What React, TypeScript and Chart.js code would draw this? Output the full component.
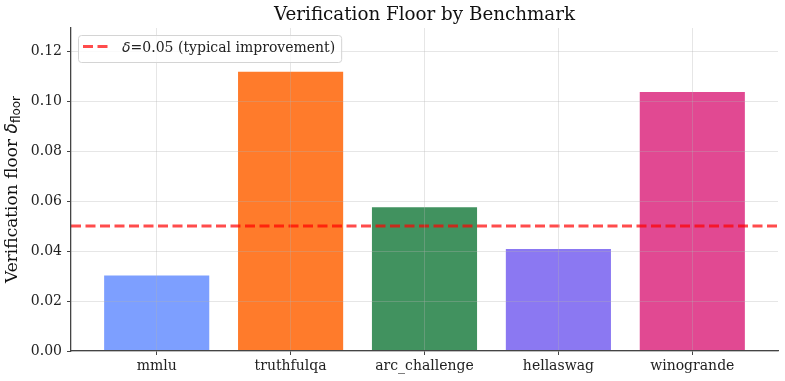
import { useEffect, useRef } from "react";
import { Chart, registerables } from "chart.js";

Chart.register(...registerables);

// Benchmarks and their measured verification floors
const benchmarks = ["mmlu", "truthfulqa", "arc_challenge", "hellaswag", "winogrande"];
const floorValues = [0.0306, 0.1121, 0.0579, 0.0412, 0.104];
const barColors = ["#7d9fff", "#ff7b2b", "#41925f", "#8b78f2", "#e14992"];

// Reference improvement threshold
const threshold = 0.05;
const yTickValues = [0, 0.02, 0.04, 0.06, 0.08, 0.1, 0.12];

const titleText = "Verification Floor by Benchmark";
const yLabelMain = "Verification floor ";
const yLabelSymbol = "δ";
const yLabelSub = "floor";
const legendRest = "=0.05 (typical improvement)";

const SERIF = "'DejaVu Serif', serif";
const SANS = "'DejaVu Sans', sans-serif";
const LINE_COLOR = "rgba(255, 0, 0, 0.7)";
const GRID_COLOR = "rgba(176, 176, 176, 0.32)";
const SPINE_COLOR = "#444444";

const xMin = -0.64;
const xMax = 4.64;

const decorations = {
  id: "decorations",
  afterDraw(chart: Chart) {
    const ctx = chart.ctx;
    const area = chart.chartArea;

    // title
    ctx.save();
    ctx.fillStyle = "#111";
    ctx.font = `18.3px ${SERIF}`;
    ctx.textAlign = "center";
    ctx.textBaseline = "alphabetic";
    ctx.fillText(titleText, (area.left + area.right) / 2, 20);
    ctx.restore();

    // y-axis label with subscript
    ctx.save();
    const mainFont = `17px ${SERIF}`;
    const symFont = `italic 17px ${SANS}`;
    const subFont = `12px ${SANS}`;
    ctx.font = mainFont;
    const w1 = ctx.measureText(yLabelMain).width;
    ctx.font = symFont;
    const w2 = ctx.measureText(yLabelSymbol).width;
    ctx.font = subFont;
    const w3 = ctx.measureText(yLabelSub).width;
    const total = w1 + w2 + w3;
    ctx.translate(17, (area.top + area.bottom) / 2);
    ctx.rotate(-Math.PI / 2);
    ctx.fillStyle = "#111";
    ctx.textBaseline = "alphabetic";
    ctx.textAlign = "left";
    let x = -total / 2;
    ctx.font = mainFont;
    ctx.fillText(yLabelMain, x, 0);
    x += w1;
    ctx.font = symFont;
    ctx.fillText(yLabelSymbol, x, 0);
    x += w2;
    ctx.font = subFont;
    ctx.fillText(yLabelSub, x, 3);
    ctx.restore();

    // legend box in the upper-left corner of the plot
    ctx.save();
    const legFont = `14px ${SERIF}`;
    const legSym = `italic 14px ${SANS}`;
    ctx.font = legSym;
    const ls = ctx.measureText(yLabelSymbol).width;
    ctx.font = legFont;
    const lr = ctx.measureText(legendRest).width;
    const bx = area.left + 7;
    const by = area.top + 7;
    const bh = 27;
    const textX = bx + 44;
    const bw = textX + ls + lr + 6 - bx;
    ctx.beginPath();
    ctx.roundRect(bx + 0.5, by + 0.5, bw, bh, 3);
    ctx.fillStyle = "rgba(255,255,255,0.8)";
    ctx.fill();
    ctx.strokeStyle = "#d4d4d4";
    ctx.lineWidth = 1;
    ctx.stroke();

    const ly = by + 11.5;
    ctx.beginPath();
    ctx.setLineDash([10, 4.5]);
    ctx.strokeStyle = LINE_COLOR;
    ctx.lineWidth = 2.8;
    ctx.moveTo(bx + 5, ly);
    ctx.lineTo(bx + 31, ly);
    ctx.stroke();
    ctx.setLineDash([]);

    ctx.fillStyle = "#222";
    ctx.textBaseline = "middle";
    ctx.textAlign = "left";
    ctx.font = legSym;
    ctx.fillText(yLabelSymbol, textX, ly + 1.5);
    ctx.font = legFont;
    ctx.fillText(legendRest, textX + ls, ly + 1.5);
    ctx.restore();
  },
};

export default function App() {
  const canvasRef = useRef<HTMLCanvasElement | null>(null);

  useEffect(() => {
    const canvas = canvasRef.current;
    if (!canvas) return;
    const chart = new Chart(canvas, {
      type: "bar",
      data: {
        datasets: [
          {
            type: "line",
            label: "threshold",
            data: [
              { x: xMin, y: threshold },
              { x: xMax, y: threshold },
            ],
            borderColor: LINE_COLOR,
            borderWidth: 2.8,
            borderDash: [10, 4.5],
            pointRadius: 0,
            fill: false,
            order: 1,
          } as any,
          {
            type: "bar",
            label: "floor",
            data: floorValues.map((v, i) => ({ x: i, y: v })),
            backgroundColor: barColors,
            borderColor: "rgba(255,255,255,0.35)",
            borderWidth: 1,
            categoryPercentage: 1,
            barPercentage: 0.8,
            order: 2,
          } as any,
        ],
      },
      options: {
        animation: false,
        responsive: false,
        devicePixelRatio: 1,
        layout: { padding: { top: 28, right: 7, left: 0, bottom: 0 } },
        plugins: {
          legend: { display: false },
          title: { display: false },
          tooltip: { enabled: false },
        },
        scales: {
          x: {
            type: "linear",
            min: xMin,
            max: xMax,
            offset: false,
            grid: {
              offset: false,
              color: GRID_COLOR,
              lineWidth: 1,
              tickLength: 4,
              tickColor: SPINE_COLOR,
              tickWidth: 1,
              z: 1,
            },
            border: { display: true, color: SPINE_COLOR, width: 1.3, z: 2 },
            ticks: {
              autoSkip: false,
              maxRotation: 0,
              padding: 3,
              color: "#222",
              font: { family: SERIF, size: 14 },
              callback: (v: any) => benchmarks[Number(v)] ?? "",
            },
            afterBuildTicks: (s: any) => {
              s.ticks = benchmarks.map((_, i) => ({ value: i }));
            },
            afterFit: (s: any) => {
              s.height = 30;
            },
          },
          y: {
            type: "linear",
            min: 0,
            max: 0.1292,
            grid: {
              color: GRID_COLOR,
              lineWidth: 1,
              tickLength: 4,
              tickColor: SPINE_COLOR,
              tickWidth: 1,
              z: 1,
            },
            border: { display: true, color: SPINE_COLOR, width: 1.3, z: 2 },
            ticks: {
              padding: 5,
              color: "#222",
              font: { family: SERIF, size: 14 },
              callback: (v: any) => Number(v).toFixed(2),
            },
            afterBuildTicks: (s: any) => {
              s.ticks = yTickValues.map((v) => ({ value: v }));
            },
            afterFit: (s: any) => {
              s.width = 71;
            },
          },
        },
      },
      plugins: [decorations],
    });
    return () => chart.destroy();
  }, []);

  return (
    <div style={{ position: "absolute", left: 0, top: 0, width: 785, height: 381, background: "#fff" }}>
      <canvas ref={canvasRef} width={785} height={381} />
    </div>
  );
}
